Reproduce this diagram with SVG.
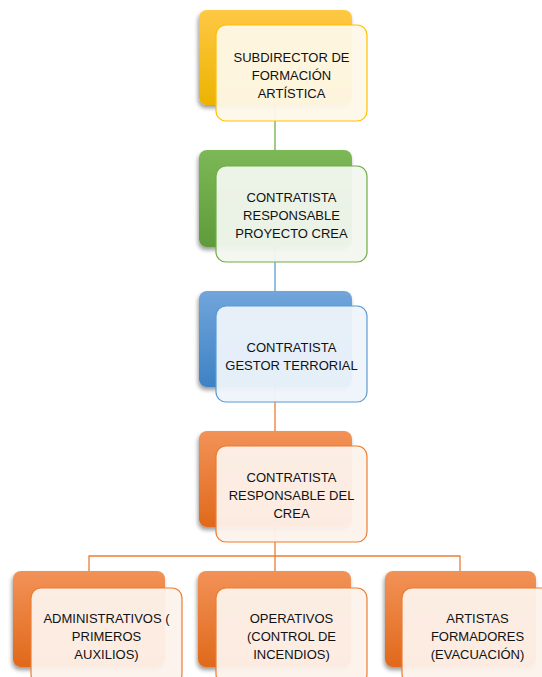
<svg xmlns="http://www.w3.org/2000/svg" width="542" height="677" viewBox="0 0 542 677">
<style>
.t{font-family:"Liberation Sans",Arial,sans-serif;font-size:13px;fill:#111111;text-anchor:middle}
.front{stroke-width:1.2;fill-opacity:0.95}
.c{fill:none;stroke-width:1.3}
</style>
<defs>
<linearGradient id="gy" x1="0" y1="0" x2="0" y2="1"><stop offset="0" stop-color="#ffc845"/><stop offset="1" stop-color="#ecb300"/></linearGradient>
<linearGradient id="gg" x1="0" y1="0" x2="0" y2="1"><stop offset="0" stop-color="#7cb856"/><stop offset="1" stop-color="#5f9b3a"/></linearGradient>
<linearGradient id="gb" x1="0" y1="0" x2="0" y2="1"><stop offset="0" stop-color="#71a5db"/><stop offset="1" stop-color="#3e82c5"/></linearGradient>
<linearGradient id="go" x1="0" y1="0" x2="0" y2="1"><stop offset="0" stop-color="#f29257"/><stop offset="1" stop-color="#e0691b"/></linearGradient>
<filter id="sh" x="-10%" y="-10%" width="125%" height="130%"><feGaussianBlur in="SourceAlpha" stdDeviation="2"/><feOffset dx="-1" dy="3"/><feComponentTransfer><feFuncA type="linear" slope="0.4"/></feComponentTransfer><feMerge><feMergeNode/><feMergeNode in="SourceGraphic"/></feMerge></filter>
</defs>
<rect width="542" height="677" fill="#ffffff"/>
<g id="connectors">
<line class="c" x1="275" y1="105" x2="275" y2="150" stroke="#70ad47"/>
<line class="c" x1="275" y1="247" x2="275" y2="291" stroke="#5b9bd5"/>
<line class="c" x1="275" y1="387" x2="275" y2="431" stroke="#ed7d31"/>
<path class="c" d="M275 527V571M89 571V556H460V571" stroke="#ed7d31"/>
</g>
<g id="n1">
<rect x="199" y="10" width="153" height="95" rx="8" fill="url(#gy)" filter="url(#sh)"/>
<rect class="front" x="216" y="25" width="151" height="96" rx="10" fill="#fef8e9" stroke="#ffc000"/>
<text class="t" x="291.5" y="61.5">SUBDIRECTOR DE</text>
<text class="t" x="291.5" y="79.5">FORMACIÓN</text>
<text class="t" x="291.5" y="97.5">ARTÍSTICA</text>
</g>
<g id="n2">
<rect x="199" y="150" width="153" height="97" rx="8" fill="url(#gg)" filter="url(#sh)"/>
<rect class="front" x="216" y="166" width="151" height="96" rx="10" fill="#f2f7ef" stroke="#70ad47"/>
<text class="t" x="291.5" y="201.5">CONTRATISTA</text>
<text class="t" x="291.5" y="219.5">RESPONSABLE</text>
<text class="t" x="291.5" y="237.5">PROYECTO CREA</text>
</g>
<g id="n3">
<rect x="199" y="291" width="153" height="96" rx="8" fill="url(#gb)" filter="url(#sh)"/>
<rect class="front" x="216" y="306" width="151" height="96" rx="10" fill="#eef4fb" stroke="#5b9bd5"/>
<text class="t" x="291.5" y="351.5">CONTRATISTA</text>
<text class="t" x="291.5" y="369.5">GESTOR TERRORIAL</text>
</g>
<g id="n4">
<rect x="199" y="431" width="153" height="96" rx="8" fill="url(#go)" filter="url(#sh)"/>
<rect class="front" x="216" y="446" width="151" height="96" rx="10" fill="#fdf2ec" stroke="#ed7d31"/>
<text class="t" x="291.5" y="481.5">CONTRATISTA</text>
<text class="t" x="291.5" y="499.5">RESPONSABLE DEL</text>
<text class="t" x="291.5" y="517.5">CREA</text>
</g>
<g id="n5">
<rect x="13" y="571" width="152" height="96" rx="8" fill="url(#go)" filter="url(#sh)"/>
<rect class="front" x="31" y="588" width="151" height="96" rx="10" fill="#fdf2ec" stroke="#ed7d31"/>
<text class="t" x="106.5" y="622.5">ADMINISTRATIVOS (</text>
<text class="t" x="106.5" y="640.5">PRIMEROS</text>
<text class="t" x="106.5" y="658.5">AUXILIOS)</text>
</g>
<g id="n6">
<rect x="198" y="571" width="153" height="96" rx="8" fill="url(#go)" filter="url(#sh)"/>
<rect class="front" x="216" y="588" width="151" height="96" rx="10" fill="#fdf2ec" stroke="#ed7d31"/>
<text class="t" x="291.5" y="622.5">OPERATIVOS</text>
<text class="t" x="291.5" y="640.5">(CONTROL DE</text>
<text class="t" x="291.5" y="658.5">INCENDIOS)</text>
</g>
<g id="n7">
<rect x="385" y="571" width="151" height="96" rx="8" fill="url(#go)" filter="url(#sh)"/>
<rect class="front" x="402" y="588" width="151" height="96" rx="10" fill="#fdf2ec" stroke="#ed7d31"/>
<text class="t" x="477.5" y="622.5">ARTISTAS</text>
<text class="t" x="477.5" y="640.5">FORMADORES</text>
<text class="t" x="477.5" y="658.5">(EVACUACIÓN)</text>
</g>
</svg>
